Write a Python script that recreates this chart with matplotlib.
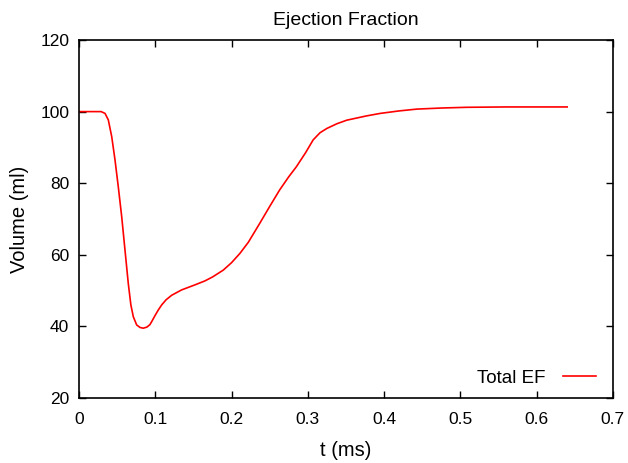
import matplotlib
matplotlib.use('Agg')
import matplotlib.pyplot as plt

# volume trace over time
t = [0.000, 0.029, 0.0341, 0.0384, 0.0429, 0.0472, 0.0515, 0.0560, 0.0603,
     0.0646, 0.0680, 0.0712, 0.0756, 0.080, 0.0843, 0.089, 0.093, 0.096,
     0.0996, 0.104, 0.1084, 0.114, 0.1215, 0.1346, 0.152, 0.165, 0.175,
     0.189, 0.200, 0.211, 0.222, 0.237, 0.250, 0.263, 0.275, 0.285, 0.297,
     0.307, 0.316, 0.325, 0.338, 0.351, 0.377, 0.395, 0.420, 0.443, 0.475,
     0.508, 0.560, 0.640]
volume = [100.0, 100.0, 99.5, 97.7, 93.0, 86.5, 79.0, 70.6, 61.3,
          52.0, 46.0, 42.7, 40.4, 39.7, 39.5, 39.8, 40.5, 41.6,
          43.0, 44.6, 46.0, 47.4, 48.7, 50.2, 51.6, 52.7, 53.8,
          55.7, 57.8, 60.4, 63.5, 68.8, 73.5, 78.1, 81.8, 84.6, 88.5,
          92.1, 94.1, 95.3, 96.6, 97.6, 98.8, 99.5, 100.2, 100.7, 101.0,
          101.2, 101.3, 101.3]

plt.rcParams['font.family'] = ['Liberation Sans', 'DejaVu Sans']

fig = plt.figure(figsize=(6.28, 4.63), dpi=100)
ax = fig.add_axes([0.1258, 0.1404, 0.8502, 0.7732])

ax.plot(t, volume, color='red', lw=1.2, label='Total EF')

ax.set_xlim(0, 0.7)
ax.set_ylim(20, 120)
ax.set_xticks([0, 0.1, 0.2, 0.3, 0.4, 0.5, 0.6, 0.7])
ax.set_xticklabels(['0', '0.1', '0.2', '0.3', '0.4', '0.5', '0.6', '0.7'])
ax.set_yticks([20, 40, 60, 80, 100, 120])
ax.tick_params(direction='in', top=True, right=True, length=5, width=1,
               labelsize=12.5)
ax.tick_params(axis='x', pad=10)
ax.tick_params(axis='y', pad=7)
for s in ax.spines.values():
    s.set_linewidth(1.2)

ax.set_title('Ejection Fraction', fontsize=14, pad=11)
ax.set_xlabel('t (ms)', fontsize=14.5, labelpad=10)
ax.set_ylabel('Volume (ml)', fontsize=14.5, labelpad=8)

ax.legend(loc='lower right', bbox_to_anchor=(0.99, 0.0), frameon=False,
          markerfirst=False, fontsize=13.5, handlelength=1.8,
          handletextpad=0.9, borderaxespad=0.2)

fig.savefig('out.png', dpi=100)
